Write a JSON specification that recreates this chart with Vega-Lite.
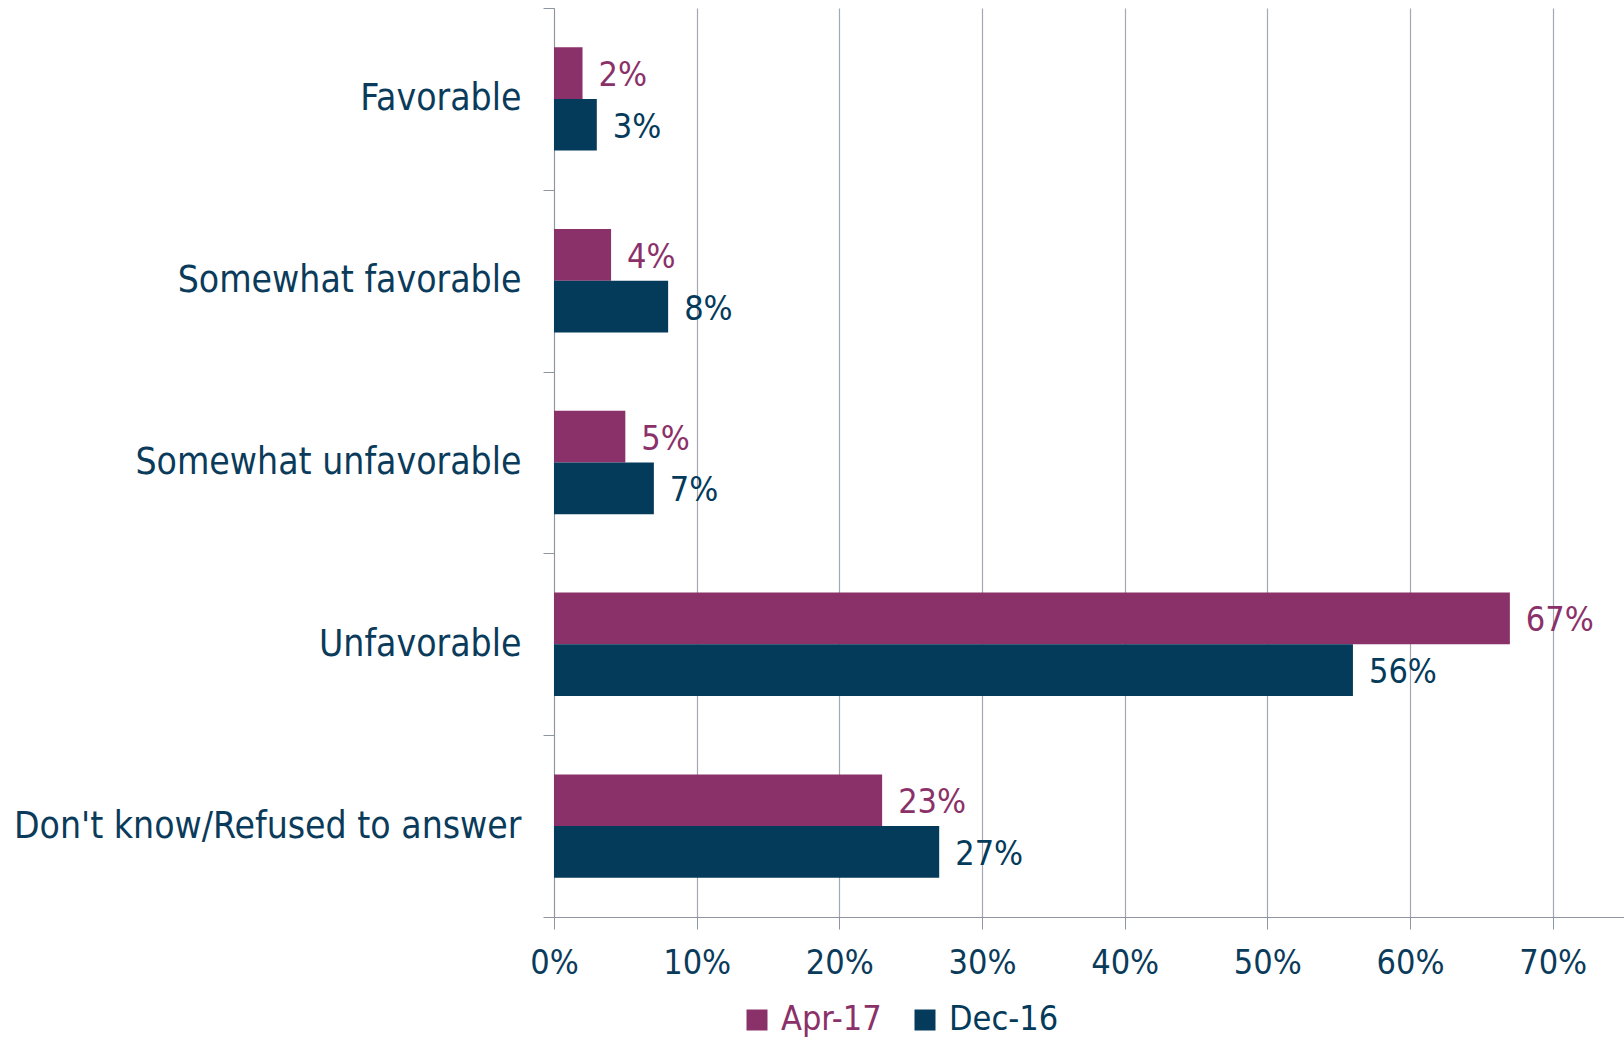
{
  "$schema": "https://vega.github.io/schema/vega-lite/v6.json",
  "width": 1070,
  "height": 909,
  "autosize": {"type": "none"},
  "padding": {"left": 554, "top": 8, "right": 0, "bottom": 123},
  "background": "white",
  "config": {
    "view": {"stroke": null},
    "font": "DejaVu Sans Condensed"
  },
  "data": {
    "values": [
      {"category": "Favorable", "series": "Apr-17", "value": 0.02},
      {"category": "Favorable", "series": "Dec-16", "value": 0.03},
      {"category": "Somewhat favorable", "series": "Apr-17", "value": 0.04},
      {"category": "Somewhat favorable", "series": "Dec-16", "value": 0.08},
      {"category": "Somewhat unfavorable", "series": "Apr-17", "value": 0.05},
      {"category": "Somewhat unfavorable", "series": "Dec-16", "value": 0.07},
      {"category": "Unfavorable", "series": "Apr-17", "value": 0.67},
      {"category": "Unfavorable", "series": "Dec-16", "value": 0.56},
      {"category": "Don't know/Refused to answer", "series": "Apr-17", "value": 0.23},
      {"category": "Don't know/Refused to answer", "series": "Dec-16", "value": 0.27}
    ]
  },
  "encoding": {
    "y": {
      "field": "category",
      "type": "nominal",
      "sort": null,
      "scale": {"paddingInner": 0, "paddingOuter": 0},
      "axis": {
        "title": null,
        "tickBand": "extent",
        "grid": false,
        "domainColor": "#8C95A0",
        "tickColor": "#8C95A0",
        "tickSize": 11,
        "labelFontSize": 37,
        "labelColor": "#0B3B5B",
        "labelPadding": 22,
        "labelLimit": 600,
        "labelFont": "DejaVu Sans Condensed"
      }
    },
    "yOffset": {
      "field": "series",
      "type": "nominal",
      "sort": ["Apr-17", "Dec-16"],
      "scale": {"paddingInner": 0, "paddingOuter": 0.758}
    },
    "x": {
      "field": "value",
      "type": "quantitative",
      "scale": {"domain": [0, 0.75], "nice": false},
      "axis": {
        "title": null,
        "format": ".0%",
        "values": [0, 0.1, 0.2, 0.3, 0.4, 0.5, 0.6, 0.7],
        "grid": true,
        "gridColor": "#A3A9B2",
        "gridWidth": 1.2,
        "domainColor": "#8C95A0",
        "tickColor": "#8C95A0",
        "tickSize": 12,
        "labelFontSize": 34,
        "labelColor": "#0B3B5B",
        "labelPadding": 17,
        "labelFlush": false,
        "labelFont": "DejaVu Sans Condensed"
      }
    },
    "color": {
      "field": "series",
      "type": "nominal",
      "sort": ["Apr-17", "Dec-16"],
      "scale": {"domain": ["Apr-17", "Dec-16"], "range": ["#8B3169", "#043A5A"]},
      "legend": {
        "title": null,
        "orient": "none",
        "direction": "horizontal",
        "legendX": 186,
        "legendY": 995,
        "symbolType": "square",
        "symbolSize": 441,
        "symbolStrokeWidth": 0,
        "symbolOpacity": 1,
        "labelFontSize": 34,
        "labelFont": "DejaVu Sans Condensed",
        "labelOffset": 7,
        "columnPadding": 26,
        "encode": {
          "labels": {
            "update": {
              "fill": {"signal": "datum.value === 'Apr-17' ? '#8B3169' : '#043A5A'"}
            }
          }
        }
      }
    }
  },
  "layer": [
    {"mark": {"type": "bar", "opacity": 1}},
    {
      "mark": {"type": "text", "align": "left", "baseline": "middle", "dx": 16, "dy": 3, "fontSize": 34, "font": "DejaVu Sans Condensed"},
      "encoding": {
        "text": {"field": "value", "type": "quantitative", "format": ".0%"}
      }
    }
  ]
}
